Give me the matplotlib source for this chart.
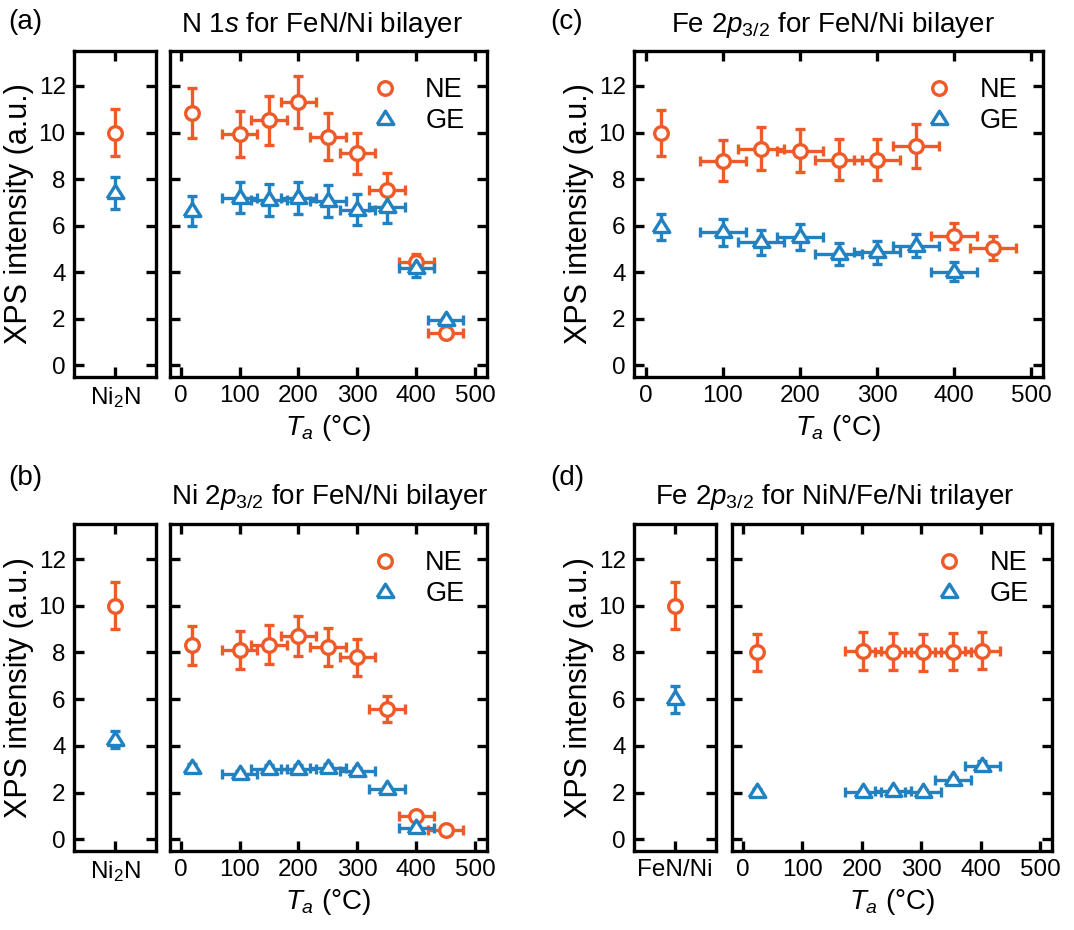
import matplotlib
matplotlib.use('Agg')
import matplotlib.pyplot as plt
from matplotlib.lines import Line2D
import numpy as np

plt.rcParams['font.family'] = ['Liberation Sans', 'DejaVu Sans']
plt.rcParams['mathtext.fontset'] = 'custom'
plt.rcParams['mathtext.rm'] = 'Liberation Sans'
plt.rcParams['mathtext.it'] = 'Liberation Sans:italic'
plt.rcParams['mathtext.bf'] = 'Liberation Sans:bold'

col_ne = '#EF5A29'
col_ge = '#2181C1'

# ---- data ----
# (a) N 1s for FeN/Ni bilayer
a_ref_label = r'Ni$_2$N'
a_ref_ne, a_ref_ne_err = 10.0, 1.0
a_ref_ge, a_ref_ge_err = 7.4, 0.7
a_x_ne = [20, 100, 150, 200, 250, 300, 350, 400, 450]
a_ne = [10.82, 9.94, 10.53, 11.32, 9.82, 9.1, 7.54, 4.43, 1.4]
a_ne_err = [1.07, 1.0, 1.05, 1.12, 1.0, 0.9, 0.74, 0.35, 0.12]
a_x_ge = [20, 100, 150, 200, 250, 300, 350, 400, 450]
a_ge = [6.62, 7.2, 7.09, 7.2, 7.05, 6.69, 6.78, 4.2, 1.94]
a_ge_err = [0.65, 0.66, 0.68, 0.68, 0.68, 0.67, 0.67, 0.4, 0.1]

# (b) Ni 2p3/2 for FeN/Ni bilayer
b_ref_label = r'Ni$_2$N'
b_ref_ne, b_ref_ne_err = 10.0, 1.0
b_ref_ge, b_ref_ge_err = 4.27, 0.35
b_x_ne = [20, 100, 150, 200, 250, 300, 350, 400, 450]
b_ne = [8.3, 8.11, 8.33, 8.71, 8.23, 7.79, 5.58, 1.0, 0.38]
b_ne_err = [0.83, 0.8, 0.84, 0.87, 0.83, 0.8, 0.56, 0.1, 0.05]
b_x_ge = [20, 100, 150, 200, 250, 300, 350, 400]
b_ge = [3.06, 2.78, 3.02, 3.02, 3.06, 2.92, 2.16, 0.5]
b_ge_err = [0.15, 0.15, 0.15, 0.15, 0.15, 0.15, 0.1, 0.05]

# (c) Fe 2p3/2 for FeN/Ni bilayer
c_x_ne = [20, 100, 150, 200, 250, 300, 350, 400, 450]
c_ne = [9.98, 8.78, 9.3, 9.22, 8.83, 8.83, 9.41, 5.55, 5.04]
c_ne_err = [1.0, 0.88, 0.93, 0.93, 0.88, 0.88, 0.95, 0.55, 0.5]
c_x_ge = [20, 100, 150, 200, 250, 300, 350, 400]
c_ge = [5.95, 5.71, 5.28, 5.52, 4.77, 4.85, 5.14, 4.03]
c_ge_err = [0.55, 0.57, 0.53, 0.55, 0.48, 0.48, 0.5, 0.4]

# (d) Fe 2p3/2 for NiN/Fe/Ni trilayer
d_ref_label = 'FeN/Ni'
d_ref_ne, d_ref_ne_err = 10.0, 1.0
d_ref_ge, d_ref_ge_err = 6.0, 0.58
d_x_ne = [24, 202, 253, 303, 353, 403]
d_ne = [8.01, 8.07, 8.04, 8.01, 8.04, 8.08]
d_ne_err = [0.8, 0.8, 0.8, 0.8, 0.8, 0.8]
d_x_ge = [24, 202, 253, 303, 353, 403]
d_ge = [2.04, 2.02, 2.06, 2.02, 2.53, 3.16]
d_ge_err = [0.1, 0.1, 0.1, 0.1, 0.15, 0.2]

x_half_width = 30   # horizontal bar half-width (deg C); none for as-grown point

W, H = 1074, 930
fig = plt.figure(figsize=(W / 100, H / 100), dpi=100)

lw = 2.4
tick_fs = 17.5
lab_fs = 20
cap = 3.4
ms_o = 9.8
ms_t = 12.0
tri = [(-1, -0.6), (1, -0.6), (0, 1.0), (-1, -0.6)]   # wide open triangle


def px_axes(l, r, t, b):
    return fig.add_axes([l / W, 1 - b / H, (r - l) / W, (b - t) / H])


def style(ax):
    for s in ax.spines.values():
        s.set_linewidth(lw)
    ax.tick_params(direction='in', length=7, width=lw, top=True, right=True,
                   labelsize=tick_fs, pad=6)
    ax.set_ylim(-0.5, 13.5)
    ax.set_yticks([0, 2, 4, 6, 8, 10, 12])


def draw_series(ax, x, y, yerr, color, marker, ms):
    x = np.asarray(x, float)
    y = np.asarray(y, float)
    xerr = np.where(x < 50, 0, x_half_width)
    ax.errorbar(x, y, yerr=yerr, fmt='none', ecolor=color, elinewidth=lw,
                capsize=cap, capthick=lw, zorder=2)
    m = xerr > 0
    ax.errorbar(x[m], y[m], xerr=xerr[m], fmt='none', ecolor=color,
                elinewidth=lw, capsize=cap, capthick=lw, zorder=2)
    ax.plot(x, y, ls='none', marker=marker, ms=ms, mfc='white', mec=color,
            mew=lw, zorder=3)


def draw_main(ax, xne, ne, ne_err, xge, ge, ge_err, xlim, ylabels):
    style(ax)
    draw_series(ax, xne, ne, ne_err, col_ne, 'o', ms_o)
    draw_series(ax, xge, ge, ge_err, col_ge, tri, ms_t)
    ax.set_xlim(*xlim)
    ax.set_xticks([0, 100, 200, 300, 400, 500])
    ax.set_xlabel(r'$T_a$ (°C)', fontsize=lab_fs, labelpad=4)
    if not ylabels:
        ax.tick_params(labelleft=False)
    handles = [Line2D([], [], ls='none', marker='o', ms=ms_o, mfc='white', mec=col_ne, mew=lw),
               Line2D([], [], ls='none', marker=tri, ms=ms_t, mfc='white', mec=col_ge, mew=lw)]
    ax.legend(handles, ['NE', 'GE'], loc='upper right', bbox_to_anchor=(0.98, 0.97),
              frameon=False, fontsize=19.5, handletextpad=1.0, labelspacing=0.2,
              borderaxespad=0.2, handlelength=1.0)


def draw_ref(ax, label, ne, ne_err, ge, ge_err):
    style(ax)
    ax.errorbar([0], [ne], yerr=[ne_err], fmt='none', ecolor=col_ne, elinewidth=lw,
                capsize=cap, capthick=lw)
    ax.errorbar([0], [ge], yerr=[ge_err], fmt='none', ecolor=col_ge, elinewidth=lw,
                capsize=cap, capthick=lw)
    ax.plot([0], [ne], ls='none', marker='o', ms=ms_o, mfc='white', mec=col_ne, mew=lw, zorder=3)
    ax.plot([0], [ge], ls='none', marker=tri, ms=ms_t, mfc='white', mec=col_ge, mew=lw, zorder=3)
    ax.set_xlim(-1, 1)
    ax.set_xticks([0])
    ax.set_xticklabels([label])
    ax.set_ylabel('XPS intensity (a.u.)', fontsize=22, labelpad=3)


# (a)
ax = px_axes(74, 156, 51, 377)
draw_ref(ax, a_ref_label, a_ref_ne, a_ref_ne_err, a_ref_ge, a_ref_ge_err)
ax = px_axes(170, 487, 51, 377)
draw_main(ax, a_x_ne, a_ne, a_ne_err, a_x_ge, a_ge, a_ge_err, (-18, 520), False)

# (b)
ax = px_axes(74, 156, 524, 851)
draw_ref(ax, b_ref_label, b_ref_ne, b_ref_ne_err, b_ref_ge, b_ref_ge_err)
ax = px_axes(170, 487, 524, 851)
draw_main(ax, b_x_ne, b_ne, b_ne_err, b_x_ge, b_ge, b_ge_err, (-18, 520), False)

# (c)
ax = px_axes(634, 1043, 51, 377)
draw_main(ax, c_x_ne, c_ne, c_ne_err, c_x_ge, c_ge, c_ge_err, (-15, 515), True)
ax.set_ylabel('XPS intensity (a.u.)', fontsize=22, labelpad=3)

# (d)
ax = px_axes(634, 716, 524, 851)
draw_ref(ax, d_ref_label, d_ref_ne, d_ref_ne_err, d_ref_ge, d_ref_ge_err)
ax = px_axes(732, 1052, 524, 851)
draw_main(ax, d_x_ne, d_ne, d_ne_err, d_x_ge, d_ge, d_ge_err, (-18, 520), False)

# panel letters and titles
for lab, x, y in [('(a)', 8, 22), ('(b)', 8, 478), ('(c)', 550, 22), ('(d)', 550, 478)]:
    fig.text(x / W, 1 - y / H, lab, fontsize=lab_fs, va='center', ha='left')

titles = [(r'N 1$s$ for FeN/Ni bilayer', 322, 25),
          (r'Ni 2$p_{\mathrm{3/2}}$ for FeN/Ni bilayer', 330, 497),
          (r'Fe 2$p_{\mathrm{3/2}}$ for FeN/Ni bilayer', 833, 25),
          (r'Fe 2$p_{\mathrm{3/2}}$ for NiN/Fe/Ni trilayer', 835, 497)]
for t, x, y in titles:
    fig.text(x / W, 1 - y / H, t, fontsize=lab_fs, va='center', ha='center')

fig.savefig('out.png', dpi=100)
